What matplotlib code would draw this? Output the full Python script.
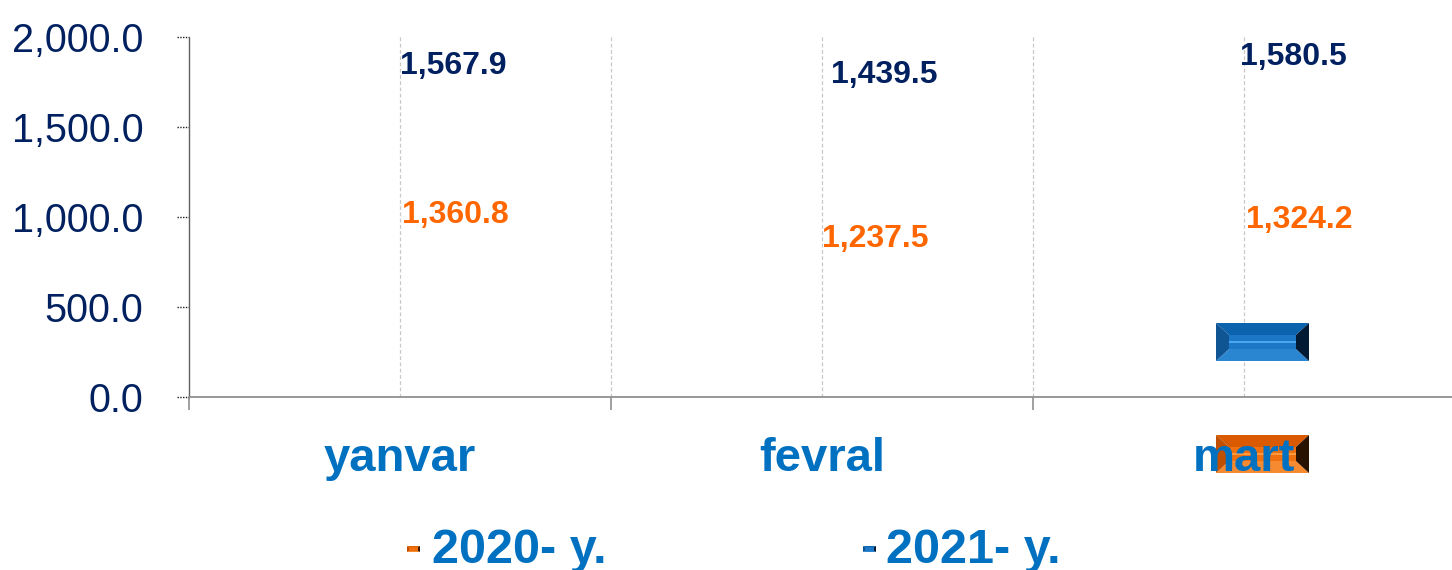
import matplotlib
matplotlib.use("Agg")
import matplotlib.pyplot as plt
from matplotlib.patches import Polygon
from matplotlib.ticker import FuncFormatter
import numpy as np

# ---- data ----
months = ["yanvar", "fevral", "mart"]
series_names = ["2020- y.", "2021- y."]
values_2020 = [1360.8, 1237.5, 1324.2]
values_2021 = [1567.9, 1439.5, 1580.5]
y_ticks = [0, 500, 1000, 1500, 2000]

# label offsets (pixels) relative to each value point
off_2021 = [(0, 41), (9, 55), (-4, 48)]
off_2020 = [(2, -71), (0, -73), (2, -69)]

W, H = 1452, 570
fig = plt.figure(figsize=(W / 100, H / 100), dpi=100)
ax = fig.add_axes([189 / W, 173 / H, 1266 / W, 360 / H])

NAVY = "#002060"
ORANGE = "#FF6600"
BLUE = "#0070C0"
FONT = ["Liberation Sans", "DejaVu Sans"]

x = np.arange(len(months))
# bars are not rendered visibly in the reference
ax.bar(x - 0.2, values_2020, width=0.35, alpha=0)
ax.bar(x + 0.2, values_2021, width=0.35, alpha=0)

ax.set_xlim(-0.5, 2.5)
ax.set_ylim(0, 2000)

# grid lines (vertical dashed)
for gx in np.arange(0, 2.01, 0.5):
    ax.axvline(gx, color="#c8c8c8", lw=0.9, ls=(0, (3, 2)), zorder=0)

for s in ["top", "right"]:
    ax.spines[s].set_visible(False)
ax.spines["left"].set_color("#606060")
ax.spines["left"].set_linestyle((0, (1, 1)))
ax.spines["left"].set_linewidth(1.0)
ax.spines["bottom"].set_color("#909090")
ax.spines["bottom"].set_linewidth(1.3)

ax.set_yticks(y_ticks)
ax.yaxis.set_major_formatter(FuncFormatter(lambda v, p: f"{v:,.1f}"))
ax.tick_params(axis="y", length=0, pad=33, labelsize=28.5, labelcolor=NAVY)
for lab in ax.get_yticklabels():
    lab.set_family(FONT)
# dotted y tick marks
for t in y_ticks:
    ax.plot([-12 / 1266, 0], [t, t], transform=ax.get_yaxis_transform(),
            color="#202020", ls=(0, (1, 1)), lw=1.0, clip_on=False)

ax.set_xticks(x)
ax.set_xticklabels(months)
ax.set_xticks([-0.5, 0.5, 1.5], minor=True)
ax.tick_params(axis="x", which="major", length=0, pad=29, labelsize=34, labelcolor=BLUE)
ax.tick_params(axis="x", which="minor", length=9.5, width=1.2, color="#909090")
for lab in ax.get_xticklabels():
    lab.set_family(FONT)
    lab.set_fontweight("bold")

for i in range(len(months)):
    ax.annotate(f"{values_2021[i]:,.1f}", xy=(x[i], values_2021[i]), xytext=off_2021[i],
                textcoords="offset pixels", ha="left", va="baseline",
                fontsize=23, fontweight="bold", color=NAVY, family=FONT)
    ax.annotate(f"{values_2020[i]:,.1f}", xy=(x[i], values_2020[i]), xytext=off_2020[i],
                textcoords="offset pixels", ha="left", va="baseline",
                fontsize=23, fontweight="bold", color=ORANGE, family=FONT)


def fxy(px, py):
    return (px / W, 1 - py / H)


def bevel_box(x0, y0, x1, y1, b, bv, cols, stripe=True, z=1):
    top, left, right, bottom, center, hl = cols
    polys = [
        ([(x0, y0), (x1, y0), (x1 - b, y0 + bv), (x0 + b, y0 + bv)], top),
        ([(x0, y1), (x1, y1), (x1 - b, y1 - bv), (x0 + b, y1 - bv)], bottom),
        ([(x0, y0), (x0 + b, y0 + bv), (x0 + b, y1 - bv), (x0, y1)], left),
        ([(x1, y0), (x1 - b, y0 + bv), (x1 - b, y1 - bv), (x1, y1)], right),
        ([(x0 + b, y0 + bv), (x1 - b, y0 + bv), (x1 - b, y1 - bv), (x0 + b, y1 - bv)], center),
    ]
    for pts, c in polys:
        fig.patches.append(Polygon([fxy(*p) for p in pts], closed=True, facecolor=c,
                                   edgecolor="none", transform=fig.transFigure, zorder=z))
    if stripe:
        ym = (y0 + y1) / 2
        pts = [(x0 + b, ym - 1.2), (x1 - b, ym - 1.2), (x1 - b, ym + 1.2), (x0 + b, ym + 1.2)]
        fig.patches.append(Polygon([fxy(*p) for p in pts], closed=True, facecolor=hl,
                                   edgecolor="none", transform=fig.transFigure, zorder=z))


blue_cols = ("#0b62ad", "#0f5594", "#021a33", "#2b86d1", "#1c78c6", "#4aa6ee")
orange_cols = ("#d95a00", "#c05000", "#2a1200", "#f58a30", "#f07010", "#ff9a40")

ax.set_zorder(5)
ax.patch.set_alpha(0)
bevel_box(1216, 323, 1309, 361, 13, 12, blue_cols, z=10)
bevel_box(1216, 435, 1309, 473, 13, 12, orange_cols, z=1)

# legend
bevel_box(407, 546, 420, 552, 2, 1, ("#e06000", "#c05000", "#3a1a00", "#f58a30", "#f07010", "#ff9a40"), stripe=False)
bevel_box(863, 546, 876, 552, 2, 1, blue_cols, stripe=False)
fig.text(432 / W, 1 - 563 / H, series_names[0], ha="left", va="baseline",
         fontsize=35, fontweight="bold", color=BLUE, family=FONT)
fig.text(886 / W, 1 - 563 / H, series_names[1], ha="left", va="baseline",
         fontsize=35, fontweight="bold", color=BLUE, family=FONT)

fig.savefig("out.png", dpi=100)
